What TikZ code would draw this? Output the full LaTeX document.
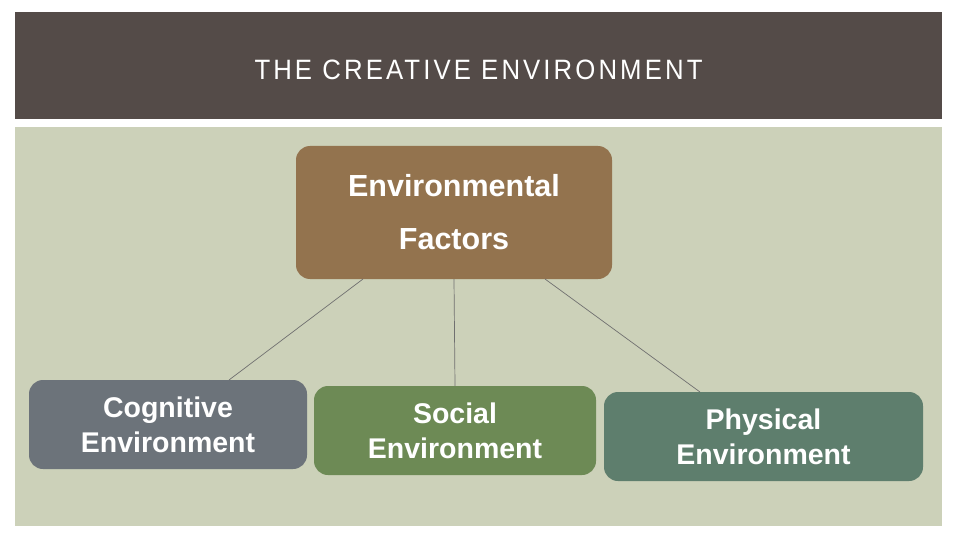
\documentclass[tikz,border=0pt]{standalone}
\usepackage{fontspec}
\setmainfont{Liberation Sans}
\newfontfamily\titlefont[LetterSpace=12]{Liberation Sans}
\definecolor{band}{HTML}{544B48}
\definecolor{panel}{HTML}{CCD1B9}
\definecolor{topc}{HTML}{93734E}
\definecolor{cogc}{HTML}{6C737A}
\definecolor{socc}{HTML}{6D8A55}
\definecolor{phyc}{HTML}{5E7E6D}
\definecolor{linkc}{HTML}{707070}
\begin{document}
\begin{tikzpicture}[x=1pt,y=-1pt,
  boxstyle/.style={rounded corners=14pt,inner sep=0pt,text=white,align=center,font=\bfseries\fontsize{28.5}{35}\selectfont},
  link/.style={draw=linkc,line width=0.7pt}]
\useasboundingbox (0,0) rectangle (960,540);
\fill[white] (0,0) rectangle (960,540);
\fill[band] (15,12) rectangle (942,119);
\fill[panel] (15,127) rectangle (942,526);
\node[text=white,font=\titlefont\fontsize{28}{32}\selectfont,xscale=0.92] (title) at (478.5,70) {THE CREATIVE ENVIRONMENT};
\node[boxstyle,fill=topc,minimum width=316pt,minimum height=133pt,font=\bfseries\fontsize{30.5}{53}\selectfont] (top) at (454,212.5) {Environmental\\Factors};
\node[boxstyle,fill=cogc,minimum width=278pt,minimum height=89pt] (cog) at (168,424.5) {Cognitive\\Environment};
\node[boxstyle,fill=socc,minimum width=282pt,minimum height=89pt] (soc) at (455,430.5) {Social\\Environment};
\node[boxstyle,fill=phyc,minimum width=319pt,minimum height=89pt] (phy) at (763.5,436.5) {Physical\\Environment};
\coordinate (t1) at (363,279);
\coordinate (t3) at (545,279);
\coordinate (c1) at (229,380);
\coordinate (p1) at (700,392);
\draw[link] (t1) -- (c1);
\draw[link] (top.south) -- (soc.north);
\draw[link] (t3) -- (p1);
\end{tikzpicture}
\end{document}
